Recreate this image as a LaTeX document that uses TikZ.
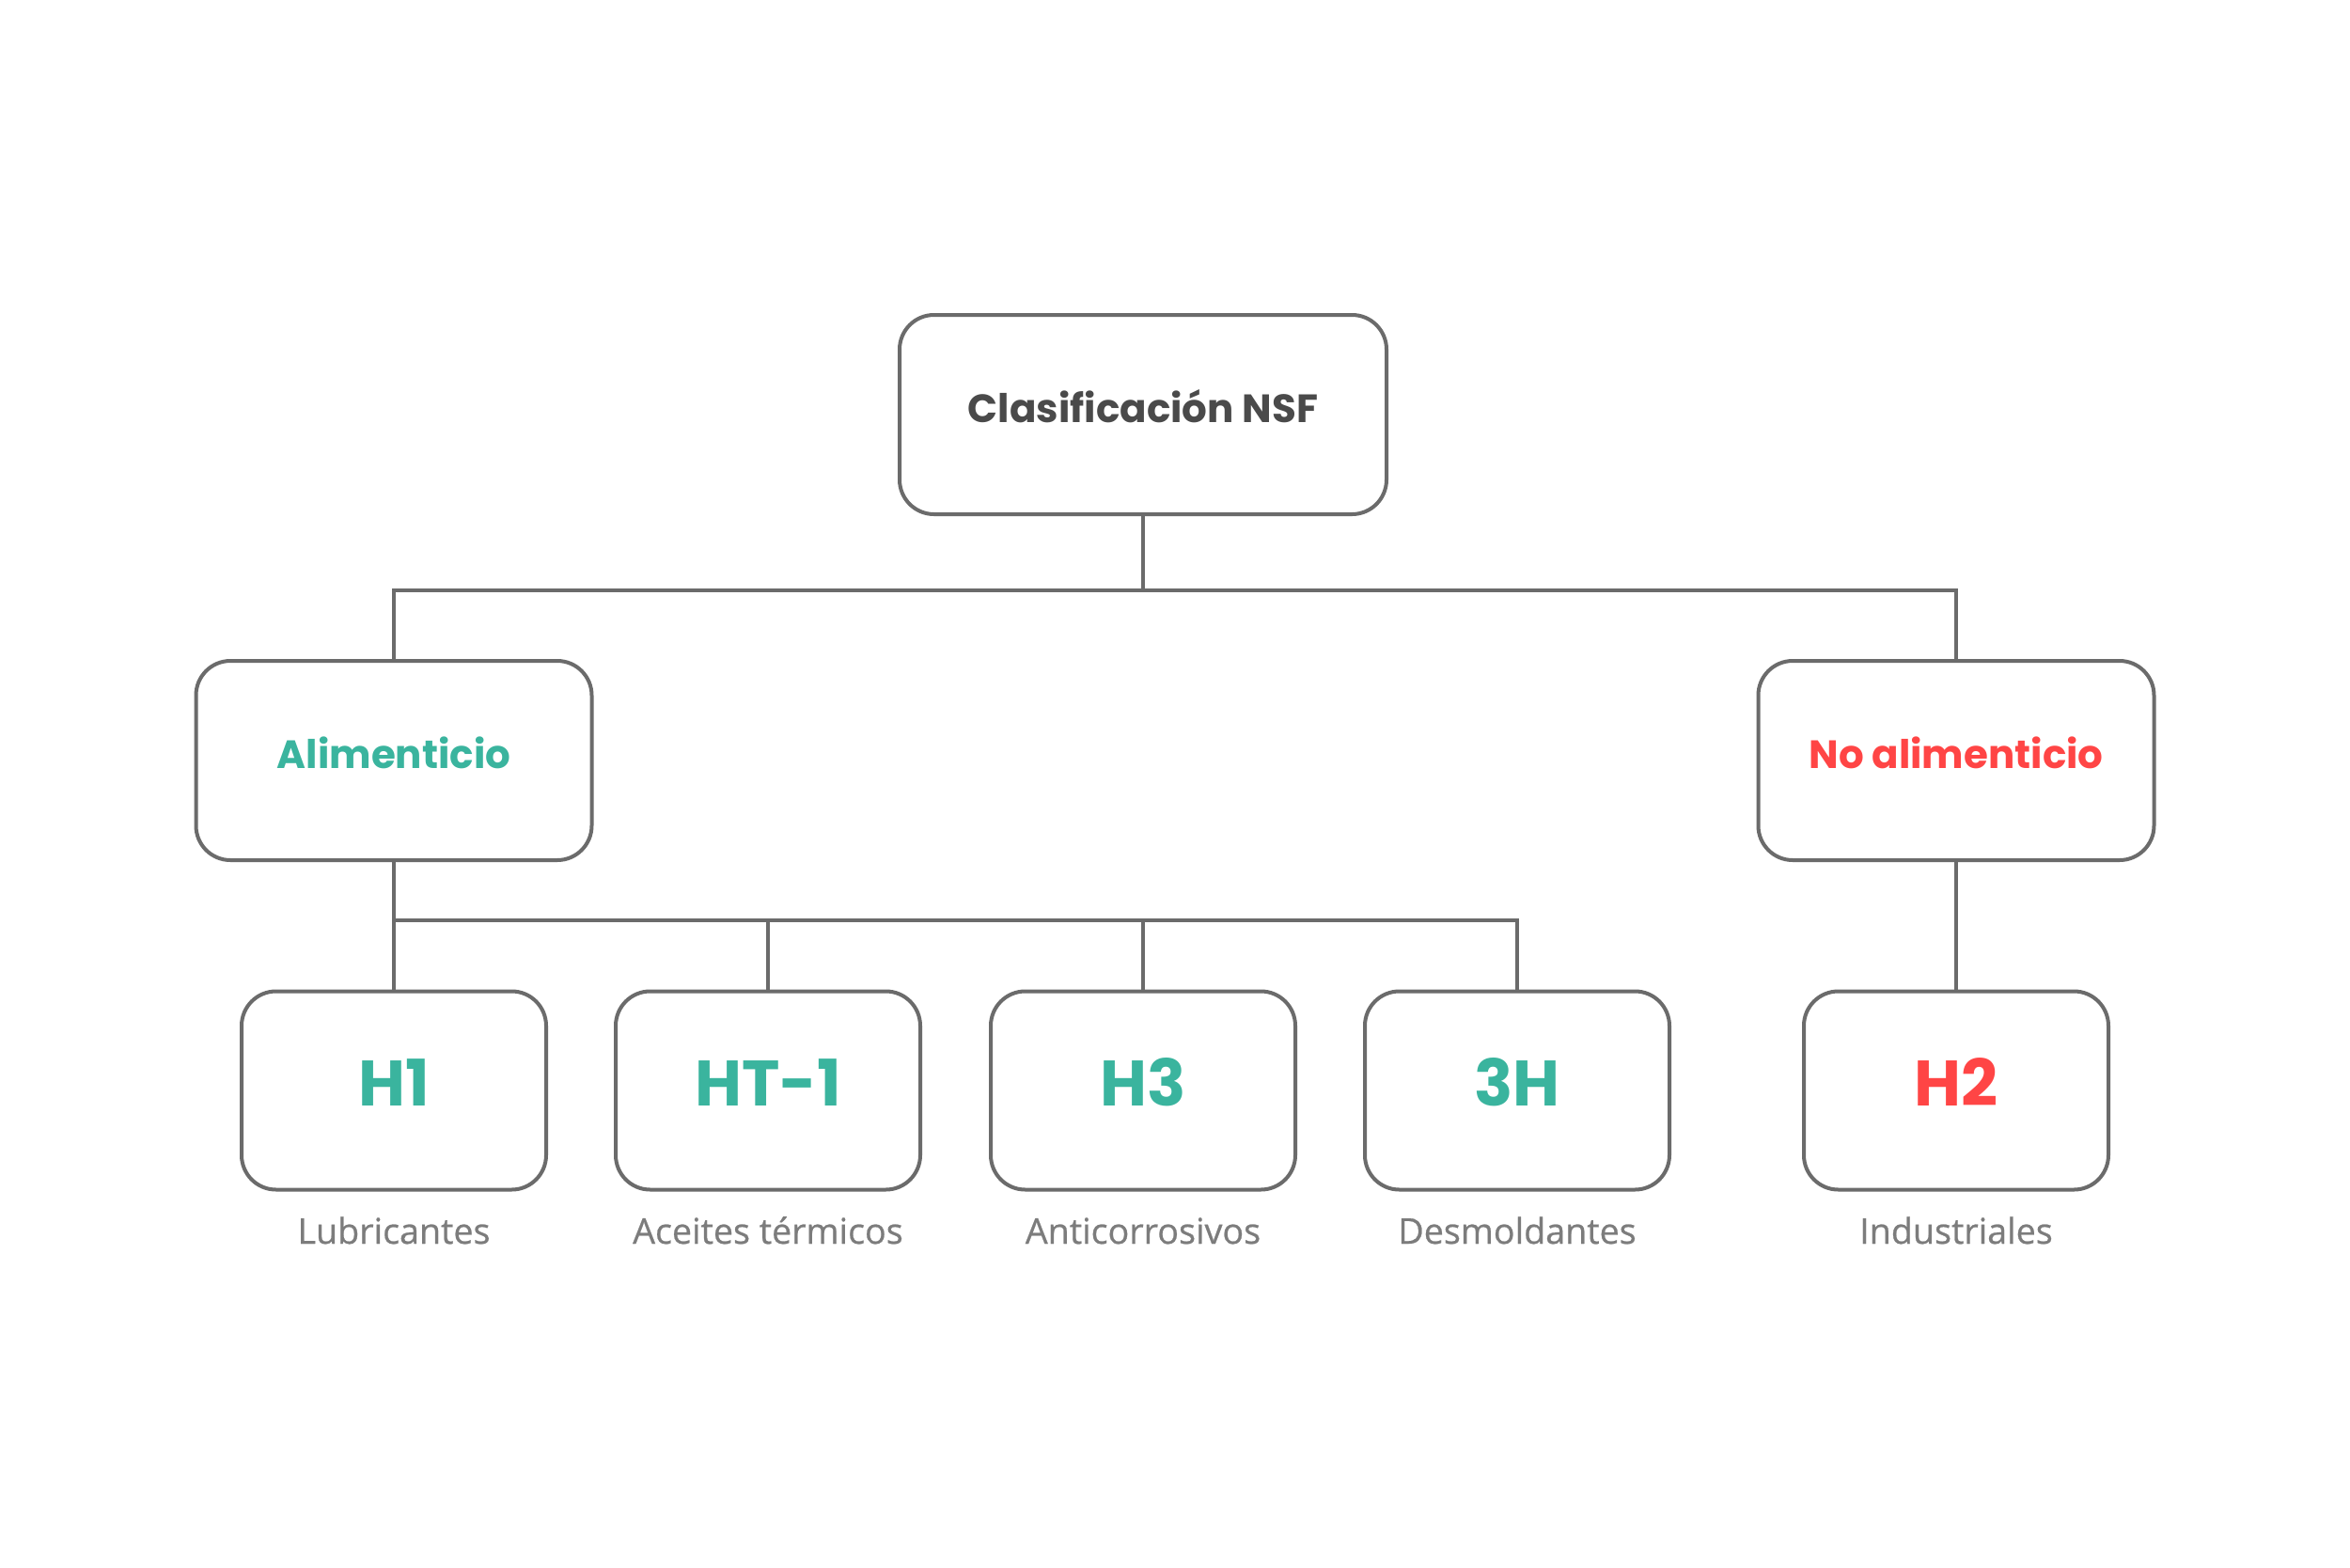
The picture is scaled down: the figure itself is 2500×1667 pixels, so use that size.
\documentclass[tikz,border=0pt]{standalone}
\usepackage{fontspec}
\newfontfamily\pop{Poppins}
\newfontfamily\opensans{Open Sans}[FakeBold=0.6]
\definecolor{boxline}{HTML}{6B6B6B}
\definecolor{teal}{HTML}{3AB49E}
\definecolor{redc}{HTML}{FF4545}
\definecolor{titlec}{HTML}{4A4A4A}
\definecolor{labc}{HTML}{7C7C7C}
\begin{document}
\begin{tikzpicture}[x=0.3pt,y=-0.3pt,
  box/.style={draw=boxline,line width=1.2pt,rounded corners=11pt,fill=white,inner sep=0pt,align=center},
  bigbox/.style={box,minimum width=155.4pt,minimum height=63.6pt},
  midbox/.style={box,minimum width=126.3pt,minimum height=63.6pt},
  smallbox/.style={box,minimum width=97.2pt,minimum height=63.3pt},
  conn/.style={draw=boxline,line width=1.2pt},
  tfont/.style={font=\pop\bfseries\fontsize{12.6}{15}\selectfont,text height=8.8pt,text depth=3.6pt},
  hfont/.style={font=\pop\bfseries\fontsize{20.5}{24}\selectfont,text height=14.3pt,text depth=4.2pt},
  lab/.style={font=\opensans\fontsize{11.3}{13}\selectfont,text=labc,anchor=base,inner sep=0pt}
]
\useasboundingbox (0,0) rectangle (2500,1667);
\fill[white] (0,0) rectangle (2500,1667);

\node[bigbox,tfont,text=titlec] (top) at (1216,441) {Clasificación NSF};
\node[midbox,tfont,text=teal] (ali) at (419,809) {Alimenticio};
\node[midbox,tfont,text=redc] (noali) at (2081,809) {No alimenticio};

\node[smallbox,hfont,text=teal] (h1) at (419,1160) {H1};
\node[smallbox,hfont,text=teal] (ht) at (817,1160) {HT-1};
\node[smallbox,hfont,text=teal] (h3) at (1216,1160) {H3};
\node[smallbox,hfont,text=teal] (d3h) at (1614,1160) {3H};
\node[smallbox,hfont,text=redc] (h2) at (2081,1160) {H2};

\node[lab] (l1) at (419,1323) {Lubricantes};
\node[lab] (l2) at (817,1323) {Aceites térmicos};
\node[lab] (l3) at (1216,1323) {Anticorrosivos};
\node[lab] (l4) at (1614,1323) {Desmoldantes};
\node[lab] (l5) at (2081,1323) {Industriales};

\coordinate (j1) at (1216,628);
\coordinate (j2) at (419,979);

\draw[conn] (top.south) -- (j1);
\draw[conn] (ali.north) |- (j1) -| (noali.north);
\draw[conn] (ali.south) -- (h1.north);
\draw[conn] (j2) -| (d3h.north);
\draw[conn] (ht.north) -- (ht.north |- j2);
\draw[conn] (h3.north) -- (h3.north |- j2);
\draw[conn] (noali.south) -- (h2.north);
\end{tikzpicture}
\end{document}
